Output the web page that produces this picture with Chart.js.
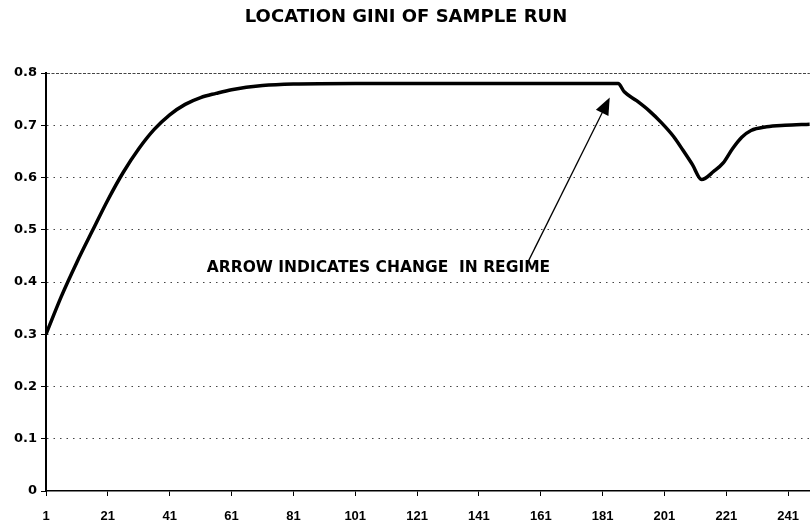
<!DOCTYPE html>
<html lang="en">
<head>
    <meta charset="UTF-8">
    <title>Location Gini of Sample Run</title>
    <script src="https://cdn.jsdelivr.net/npm/chart.js@4.4.1/dist/chart.umd.min.js"></script>
    <style>
        html, body { margin: 0; padding: 0; background: #fff; }
        #giniChart { display: block; }
    </style>
</head>
<body>
    <canvas id="giniChart" width="812" height="526"></canvas>

    <script>
        // Values
        const periods = [1, 6, 11, 16, 21, 26, 31, 36, 41, 46, 51, 56, 61, 71, 81, 101, 131, 161, 186,
                         188, 192, 196, 200, 204, 207, 210, 213, 217, 220, 223, 226, 229, 234, 240, 248];
        const giniValues = [0.30, 0.373, 0.438, 0.498, 0.557, 0.61, 0.655, 0.692, 0.72, 0.74, 0.753, 0.761, 0.768, 0.776, 0.779, 0.78, 0.78, 0.78, 0.78,
                            0.764, 0.747, 0.728, 0.705, 0.678, 0.652, 0.625, 0.596, 0.612, 0.628, 0.655, 0.677, 0.69, 0.697, 0.70, 0.702];
        const xTickValues = [1, 21, 41, 61, 81, 101, 121, 141, 161, 181, 201, 221, 241];
        const yTickValues = [0, 0.1, 0.2, 0.3, 0.4, 0.5, 0.6, 0.7, 0.8];

        // Annotation: arrow tail/tip and label anchor, in data units
        const arrowTail = [157, 0.44];
        const arrowTip = [183.3, 0.753];
        const noteAnchor = [53, 0.427];
        const noteText = 'ARROW INDICATES CHANGE  IN REGIME';

        const annotationPlugin = {
            id: 'regimeArrow',
            afterDraw(chart) {
                const ctx = chart.ctx;
                const x = chart.scales.x, y = chart.scales.y;
                const x1 = x.getPixelForValue(arrowTail[0]), y1 = y.getPixelForValue(arrowTail[1]);
                const x2 = x.getPixelForValue(arrowTip[0]), y2 = y.getPixelForValue(arrowTip[1]);
                const ang = Math.atan2(y2 - y1, x2 - x1);
                const headLen = 17, headHalf = 7;

                ctx.save();
                ctx.strokeStyle = '#000';
                ctx.fillStyle = '#000';
                ctx.lineWidth = 1.3;
                ctx.beginPath();
                ctx.moveTo(x1, y1);
                ctx.lineTo(x2 - Math.cos(ang) * headLen * 0.8, y2 - Math.sin(ang) * headLen * 0.8);
                ctx.stroke();

                // filled head
                const bx = x2 - Math.cos(ang) * headLen, by = y2 - Math.sin(ang) * headLen;
                ctx.beginPath();
                ctx.moveTo(x2, y2);
                ctx.lineTo(bx + Math.sin(ang) * headHalf, by - Math.cos(ang) * headHalf);
                ctx.lineTo(bx - Math.sin(ang) * headHalf, by + Math.cos(ang) * headHalf);
                ctx.closePath();
                ctx.fill();

                ctx.font = 'bold 15.5px "DejaVu Sans"';
                ctx.textAlign = 'left';
                ctx.textBaseline = 'middle';
                ctx.fillText(noteText, x.getPixelForValue(noteAnchor[0]), y.getPixelForValue(noteAnchor[1]));
                ctx.restore();
            }
        };

        function initializeChart() {
            const ctx = document.getElementById('giniChart').getContext('2d');
            new Chart(ctx, {
                type: 'line',
                data: {
                    datasets: [{
                        data: periods.map((p, i) => ({ x: p, y: giniValues[i] })),
                        borderColor: '#000',
                        borderWidth: 3.5,
                        pointRadius: 0,
                        cubicInterpolationMode: 'monotone',
                        fill: false
                    }]
                },
                options: {
                    responsive: false,
                    animation: false,
                    devicePixelRatio: 1,
                    layout: { padding: 0 },
                    plugins: {
                        legend: { display: false },
                        tooltip: { enabled: false },
                        title: {
                            display: true,
                            text: 'LOCATION GINI OF SAMPLE RUN',
                            color: '#000',
                            font: { family: '"DejaVu Sans"', size: 18, weight: 'bold' },
                            padding: { top: 7, bottom: 44.4 }
                        }
                    },
                    scales: {
                        x: {
                            type: 'linear',
                            min: 1,
                            max: 248,
                            afterBuildTicks(scale) {
                                scale.ticks = xTickValues.map(v => ({ value: v }));
                            },
                            afterFit(scale) { scale.height = 35; },
                            grid: {
                                drawOnChartArea: false,
                                color: '#000',
                                tickLength: 5
                            },
                            border: { display: true, color: '#000', width: 1.5 },
                            ticks: {
                                color: '#000',
                                padding: 13,
                                maxRotation: 0,
                                autoSkip: false,
                                font: { family: '"Liberation Sans"', size: 13, weight: 'bold' }
                            }
                        },
                        y: {
                            min: 0,
                            max: 0.8,
                            afterBuildTicks(scale) {
                                scale.ticks = yTickValues.map(v => ({ value: v }));
                            },
                            afterFit(scale) { scale.width = 46; },
                            grid: {
                                color: ctx => ctx.tick && ctx.tick.value === 0 ? 'rgba(0,0,0,0)' : '#444',
                                lineWidth: 1,
                                tickColor: '#000',
                                tickLength: 5
                            },
                            border: {
                                display: true,
                                color: '#000',
                                width: 2,
                                dash: ctx => ctx.tick && ctx.tick.value === 0.8 ? [3, 1.5] : [1.5, 5]
                            },
                            ticks: {
                                color: '#000',
                                padding: 4,
                                font: { family: '"DejaVu Sans"', size: 13, weight: 'bold' },
                                callback: v => v === 0 ? '0' : v.toFixed(1)
                            }
                        }
                    }
                },
                plugins: [annotationPlugin]
            });
        }

        document.addEventListener('DOMContentLoaded', initializeChart);
    </script>
</body>
</html>
